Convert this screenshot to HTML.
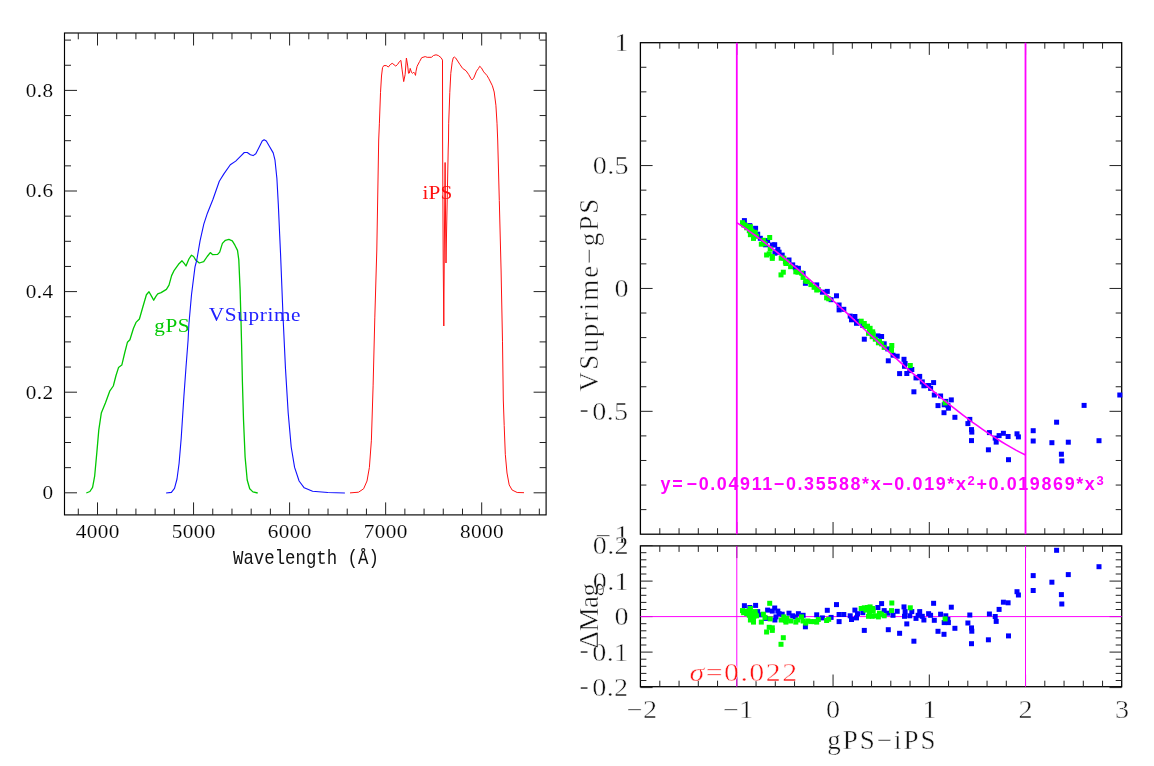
<!DOCTYPE html>
<html><head><meta charset="utf-8"><title>plot</title>
<style>
html,body{margin:0;padding:0;background:#fff;}
svg{display:block;}
text{font-family:"Liberation Serif",serif;}
.lt{font-size:18.5px;letter-spacing:0.3px;stroke:#fff;stroke-width:0.12px;fill:#000;}
.lw{font-family:"Liberation Mono",monospace;font-size:20.8px;letter-spacing:0px;fill:#111;}
.cl{font-size:19.3px;}
.rt{font-size:24.5px;letter-spacing:0.3px;stroke:#fff;stroke-width:0.45px;}
.rl{font-size:27px;letter-spacing:1.5px;stroke:#fff;stroke-width:0.45px;}
.eq{font-family:"Liberation Sans",sans-serif;font-weight:bold;font-size:17.9px;letter-spacing:1.64px;}
</style></head><body>
<svg width="1154" height="766" viewBox="0 0 1154 766">
<rect width="1154" height="766" fill="#fff"/>
<g fill="#111" opacity="0.999">
<rect x="64.5" y="33.0" width="481.6" height="481.9" fill="none" stroke="#000" stroke-width="1.15"/>
<path d="M78.29 514.90L78.29 508.60M78.29 33.00L78.29 39.30M97.50 514.90L97.50 502.40M97.50 33.00L97.50 45.50M116.71 514.90L116.71 508.60M116.71 33.00L116.71 39.30M135.92 514.90L135.92 508.60M135.92 33.00L135.92 39.30M155.13 514.90L155.13 508.60M155.13 33.00L155.13 39.30M174.34 514.90L174.34 508.60M174.34 33.00L174.34 39.30M193.55 514.90L193.55 502.40M193.55 33.00L193.55 45.50M212.76 514.90L212.76 508.60M212.76 33.00L212.76 39.30M231.97 514.90L231.97 508.60M231.97 33.00L231.97 39.30M251.18 514.90L251.18 508.60M251.18 33.00L251.18 39.30M270.39 514.90L270.39 508.60M270.39 33.00L270.39 39.30M289.60 514.90L289.60 502.40M289.60 33.00L289.60 45.50M308.81 514.90L308.81 508.60M308.81 33.00L308.81 39.30M328.02 514.90L328.02 508.60M328.02 33.00L328.02 39.30M347.23 514.90L347.23 508.60M347.23 33.00L347.23 39.30M366.44 514.90L366.44 508.60M366.44 33.00L366.44 39.30M385.65 514.90L385.65 502.40M385.65 33.00L385.65 45.50M404.86 514.90L404.86 508.60M404.86 33.00L404.86 39.30M424.07 514.90L424.07 508.60M424.07 33.00L424.07 39.30M443.28 514.90L443.28 508.60M443.28 33.00L443.28 39.30M462.49 514.90L462.49 508.60M462.49 33.00L462.49 39.30M481.70 514.90L481.70 502.40M481.70 33.00L481.70 45.50M500.91 514.90L500.91 508.60M500.91 33.00L500.91 39.30M520.12 514.90L520.12 508.60M520.12 33.00L520.12 39.30M539.33 514.90L539.33 508.60M539.33 33.00L539.33 39.30M64.50 492.80L77.00 492.80M546.10 492.80L533.60 492.80M64.50 467.65L71.00 467.65M546.10 467.65L539.60 467.65M64.50 442.50L71.00 442.50M546.10 442.50L539.60 442.50M64.50 417.35L71.00 417.35M546.10 417.35L539.60 417.35M64.50 392.20L77.00 392.20M546.10 392.20L533.60 392.20M64.50 367.05L71.00 367.05M546.10 367.05L539.60 367.05M64.50 341.90L71.00 341.90M546.10 341.90L539.60 341.90M64.50 316.75L71.00 316.75M546.10 316.75L539.60 316.75M64.50 291.60L77.00 291.60M546.10 291.60L533.60 291.60M64.50 266.45L71.00 266.45M546.10 266.45L539.60 266.45M64.50 241.30L71.00 241.30M546.10 241.30L539.60 241.30M64.50 216.15L71.00 216.15M546.10 216.15L539.60 216.15M64.50 191.00L77.00 191.00M546.10 191.00L533.60 191.00M64.50 165.85L71.00 165.85M546.10 165.85L539.60 165.85M64.50 140.70L71.00 140.70M546.10 140.70L539.60 140.70M64.50 115.55L71.00 115.55M546.10 115.55L539.60 115.55M64.50 90.40L77.00 90.40M546.10 90.40L533.60 90.40M64.50 65.25L71.00 65.25M546.10 65.25L539.60 65.25M64.50 40.10L71.00 40.10M546.10 40.10L539.60 40.10" stroke="#222" stroke-width="1.0" fill="none"/>
<path d="M86.3 493.0 L89.9 491.5 L92.6 487.3 L94.7 475.8 L96.8 452.9 L98.8 429.9 L101.3 413.1 L105.5 402.7 L109.7 391.2 L113.3 386.0 L116.0 375.5 L118.5 367.6 L121.8 365.1 L124.8 352.5 L127.4 342.3 L129.9 339.8 L133.4 328.5 L136.0 322.4 L139.4 319.0 L142.9 306.8 L146.4 294.7 L149.0 291.7 L151.6 296.4 L153.7 300.2 L155.9 296.4 L157.7 293.8 L161.1 292.6 L166.4 289.4 L169.0 285.1 L171.6 275.6 L174.2 270.3 L178.5 264.3 L182.0 260.8 L184.2 263.4 L186.0 266.0 L188.9 259.0 L191.5 255.2 L193.6 256.5 L195.9 260.3 L199.3 263.0 L203.7 261.7 L207.2 256.5 L210.3 252.6 L212.7 254.7 L217.6 254.4 L219.7 252.1 L222.4 243.4 L225.4 240.3 L228.9 239.4 L232.3 240.8 L234.9 245.2 L237.5 250.4 L238.8 259.9 L240.1 289.4 L241.0 320.7 L241.6 345.0 L242.4 381.8 L243.5 419.4 L245.1 457.0 L247.2 480.0 L249.7 488.8 L252.9 491.9 L257.7 493.0" fill="none" stroke="#00c800" stroke-width="1.3" stroke-linejoin="round"/>
<path d="M166.1 493.0 L171.4 492.4 L174.5 488.4 L177.0 479.0 L179.1 463.3 L181.2 438.2 L183.9 396.4 L186.0 367.2 L188.1 340.0 L188.9 324.2 L191.5 294.7 L195.0 266.9 L196.8 260.0 L200.1 240.6 L203.8 224.2 L207.4 213.2 L212.9 199.5 L219.3 181.2 L223.9 173.9 L230.3 164.8 L235.7 161.1 L241.2 155.6 L244.3 152.5 L247.3 152.5 L250.4 154.7 L253.1 155.6 L255.8 153.8 L259.5 146.5 L262.2 141.0 L264.1 139.7 L266.3 141.0 L269.5 146.5 L273.2 152.9 L275.0 160.2 L276.9 178.5 L278.3 204.1 L279.6 233.3 L280.6 255.0 L283.1 317.9 L285.5 368.9 L288.2 413.0 L291.2 447.0 L294.6 467.4 L299.1 481.0 L304.2 487.8 L312.6 491.2 L327.9 492.5 L344.9 493.0" fill="none" stroke="#1010ff" stroke-width="1.1" stroke-linejoin="round"/>
<path d="M350.0 492.9 L358.5 492.2 L363.6 488.8 L367.0 481.0 L369.4 467.4 L371.4 440.2 L373.1 385.9 L374.8 317.9 L376.8 250.0 L378.7 140.0 L379.4 123.2 L380.5 92.7 L381.5 76.0 L382.5 67.7 L383.8 65.6 L386.3 65.6 L388.4 67.0 L390.2 64.7 L392.2 63.3 L394.0 64.7 L395.8 66.1 L397.7 64.3 L399.5 61.5 L400.9 60.4 L402.0 69.1 L403.7 81.6 L405.1 74.7 L406.4 58.0 L407.6 65.0 L408.5 73.3 L409.4 73.0 L410.2 68.4 L411.6 72.6 L412.7 73.3 L413.8 72.2 L414.6 73.3 L415.5 75.4 L416.0 71.2 L417.1 66.3 L419.6 61.5 L421.7 57.7 L425.2 56.6 L427.2 57.3 L431.4 57.3 L433.5 55.5 L436.0 54.8 L438.3 55.5 L441.1 57.7 L442.5 60.1 L442.6 140.0 L443.2 260.0 L443.8 326.0 L444.3 250.0 L445.1 162.5 L445.6 225.0 L446.0 263.0 L446.6 230.0 L447.5 185.0 L448.2 150.0 L448.5 140.0 L448.7 123.2 L449.8 92.7 L450.8 73.3 L452.2 62.2 L453.2 58.0 L454.3 56.9 L455.7 58.0 L459.8 64.3 L462.6 68.4 L466.1 70.8 L468.8 74.7 L470.9 78.5 L472.0 79.9 L473.7 78.1 L476.5 71.2 L478.5 68.4 L479.7 66.3 L481.3 67.7 L483.7 71.9 L486.9 75.4 L488.9 78.8 L492.4 85.8 L494.2 92.0 L495.9 105.2 L497.0 123.2 L497.7 140.0 L499.3 200.6 L501.1 271.0 L502.5 341.8 L503.3 400.0 L504.2 425.5 L505.3 454.3 L507.0 473.0 L509.2 484.9 L512.1 490.0 L517.2 492.5 L524.0 492.7" fill="none" stroke="#ff1010" stroke-width="1.0" stroke-linejoin="round"/>
<text class="lt" transform="translate(53.4,499.2) scale(1.150,1)" text-anchor="end" >0</text>
<text class="lt" transform="translate(53.4,398.6) scale(1.150,1)" text-anchor="end" >0.2</text>
<text class="lt" transform="translate(53.4,298.0) scale(1.150,1)" text-anchor="end" >0.4</text>
<text class="lt" transform="translate(53.4,197.4) scale(1.150,1)" text-anchor="end" >0.6</text>
<text class="lt" transform="translate(53.4,96.8) scale(1.150,1)" text-anchor="end" >0.8</text>
<text class="lt" transform="translate(97.7,538.0) scale(1.150,1)" text-anchor="middle" >4000</text>
<text class="lt" transform="translate(193.8,538.0) scale(1.150,1)" text-anchor="middle" >5000</text>
<text class="lt" transform="translate(289.8,538.0) scale(1.150,1)" text-anchor="middle" >6000</text>
<text class="lt" transform="translate(385.8,538.0) scale(1.150,1)" text-anchor="middle" >7000</text>
<text class="lt" transform="translate(481.9,538.0) scale(1.150,1)" text-anchor="middle" >8000</text>
<text class="lw" transform="translate(305.9,564.0) scale(0.835,1)" text-anchor="middle" >Wavelength (Å)</text>
<text class="cl" transform="translate(154.3,332.4) scale(1.100,1)" text-anchor="start" fill="#00c800" style="letter-spacing:0.5px">gPS</text>
<text class="cl" transform="translate(208.7,321.1) scale(1.100,1)" text-anchor="start" fill="#2020ff" style="letter-spacing:0.6px">VSuprime</text>
<text class="cl" transform="translate(422.6,199.0) scale(1.100,1)" text-anchor="start" fill="#ff1010" style="letter-spacing:0.1px">iPS</text>
<rect x="640.4" y="42.7" width="481.3" height="491.5" fill="none" stroke="#000" stroke-width="1.3"/>
<rect x="640.4" y="545.9" width="481.3" height="140.8" fill="none" stroke="#000" stroke-width="1.3"/>
<path d="M659.80 42.70L659.80 48.70M659.80 534.20L659.80 528.20M659.80 545.90L659.80 551.90M659.80 686.70L659.80 680.70M679.05 42.70L679.05 48.70M679.05 534.20L679.05 528.20M679.05 545.90L679.05 551.90M679.05 686.70L679.05 680.70M698.30 42.70L698.30 48.70M698.30 534.20L698.30 528.20M698.30 545.90L698.30 551.90M698.30 686.70L698.30 680.70M717.55 42.70L717.55 48.70M717.55 534.20L717.55 528.20M717.55 545.90L717.55 551.90M717.55 686.70L717.55 680.70M736.80 42.70L736.80 54.90M736.80 534.20L736.80 522.00M736.80 545.90L736.80 558.10M736.80 686.70L736.80 674.50M756.05 42.70L756.05 48.70M756.05 534.20L756.05 528.20M756.05 545.90L756.05 551.90M756.05 686.70L756.05 680.70M775.30 42.70L775.30 48.70M775.30 534.20L775.30 528.20M775.30 545.90L775.30 551.90M775.30 686.70L775.30 680.70M794.55 42.70L794.55 48.70M794.55 534.20L794.55 528.20M794.55 545.90L794.55 551.90M794.55 686.70L794.55 680.70M813.80 42.70L813.80 48.70M813.80 534.20L813.80 528.20M813.80 545.90L813.80 551.90M813.80 686.70L813.80 680.70M833.05 42.70L833.05 54.90M833.05 534.20L833.05 522.00M833.05 545.90L833.05 558.10M833.05 686.70L833.05 674.50M852.30 42.70L852.30 48.70M852.30 534.20L852.30 528.20M852.30 545.90L852.30 551.90M852.30 686.70L852.30 680.70M871.55 42.70L871.55 48.70M871.55 534.20L871.55 528.20M871.55 545.90L871.55 551.90M871.55 686.70L871.55 680.70M890.80 42.70L890.80 48.70M890.80 534.20L890.80 528.20M890.80 545.90L890.80 551.90M890.80 686.70L890.80 680.70M910.05 42.70L910.05 48.70M910.05 534.20L910.05 528.20M910.05 545.90L910.05 551.90M910.05 686.70L910.05 680.70M929.30 42.70L929.30 54.90M929.30 534.20L929.30 522.00M929.30 545.90L929.30 558.10M929.30 686.70L929.30 674.50M948.55 42.70L948.55 48.70M948.55 534.20L948.55 528.20M948.55 545.90L948.55 551.90M948.55 686.70L948.55 680.70M967.80 42.70L967.80 48.70M967.80 534.20L967.80 528.20M967.80 545.90L967.80 551.90M967.80 686.70L967.80 680.70M987.05 42.70L987.05 48.70M987.05 534.20L987.05 528.20M987.05 545.90L987.05 551.90M987.05 686.70L987.05 680.70M1006.30 42.70L1006.30 48.70M1006.30 534.20L1006.30 528.20M1006.30 545.90L1006.30 551.90M1006.30 686.70L1006.30 680.70M1025.55 42.70L1025.55 54.90M1025.55 534.20L1025.55 522.00M1025.55 545.90L1025.55 558.10M1025.55 686.70L1025.55 674.50M1044.80 42.70L1044.80 48.70M1044.80 534.20L1044.80 528.20M1044.80 545.90L1044.80 551.90M1044.80 686.70L1044.80 680.70M1064.05 42.70L1064.05 48.70M1064.05 534.20L1064.05 528.20M1064.05 545.90L1064.05 551.90M1064.05 686.70L1064.05 680.70M1083.30 42.70L1083.30 48.70M1083.30 534.20L1083.30 528.20M1083.30 545.90L1083.30 551.90M1083.30 686.70L1083.30 680.70M1102.55 42.70L1102.55 48.70M1102.55 534.20L1102.55 528.20M1102.55 545.90L1102.55 551.90M1102.55 686.70L1102.55 680.70M640.40 509.62L646.40 509.62M1121.70 509.62L1115.70 509.62M640.40 485.05L646.40 485.05M1121.70 485.05L1115.70 485.05M640.40 460.47L646.40 460.47M1121.70 460.47L1115.70 460.47M640.40 435.90L646.40 435.90M1121.70 435.90L1115.70 435.90M640.40 411.32L652.60 411.32M1121.70 411.32L1109.50 411.32M640.40 386.75L646.40 386.75M1121.70 386.75L1115.70 386.75M640.40 362.17L646.40 362.17M1121.70 362.17L1115.70 362.17M640.40 337.60L646.40 337.60M1121.70 337.60L1115.70 337.60M640.40 313.02L646.40 313.02M1121.70 313.02L1115.70 313.02M640.40 288.45L652.60 288.45M1121.70 288.45L1109.50 288.45M640.40 263.87L646.40 263.87M1121.70 263.87L1115.70 263.87M640.40 239.30L646.40 239.30M1121.70 239.30L1115.70 239.30M640.40 214.72L646.40 214.72M1121.70 214.72L1115.70 214.72M640.40 190.15L646.40 190.15M1121.70 190.15L1115.70 190.15M640.40 165.57L652.60 165.57M1121.70 165.57L1109.50 165.57M640.40 141.00L646.40 141.00M1121.70 141.00L1115.70 141.00M640.40 116.42L646.40 116.42M1121.70 116.42L1115.70 116.42M640.40 91.85L646.40 91.85M1121.70 91.85L1115.70 91.85M640.40 67.27L646.40 67.27M1121.70 67.27L1115.70 67.27M640.40 687.60L652.60 687.60M1121.70 687.60L1109.50 687.60M640.40 680.50L646.40 680.50M1121.70 680.50L1115.70 680.50M640.40 673.40L646.40 673.40M1121.70 673.40L1115.70 673.40M640.40 666.30L646.40 666.30M1121.70 666.30L1115.70 666.30M640.40 659.20L646.40 659.20M1121.70 659.20L1115.70 659.20M640.40 652.10L652.60 652.10M1121.70 652.10L1109.50 652.10M640.40 645.00L646.40 645.00M1121.70 645.00L1115.70 645.00M640.40 637.90L646.40 637.90M1121.70 637.90L1115.70 637.90M640.40 630.80L646.40 630.80M1121.70 630.80L1115.70 630.80M640.40 623.70L646.40 623.70M1121.70 623.70L1115.70 623.70M640.40 616.60L652.60 616.60M1121.70 616.60L1109.50 616.60M640.40 609.50L646.40 609.50M1121.70 609.50L1115.70 609.50M640.40 602.40L646.40 602.40M1121.70 602.40L1115.70 602.40M640.40 595.30L646.40 595.30M1121.70 595.30L1115.70 595.30M640.40 588.20L646.40 588.20M1121.70 588.20L1115.70 588.20M640.40 581.10L652.60 581.10M1121.70 581.10L1109.50 581.10M640.40 574.00L646.40 574.00M1121.70 574.00L1115.70 574.00M640.40 566.90L646.40 566.90M1121.70 566.90L1115.70 566.90M640.40 559.80L646.40 559.80M1121.70 559.80L1115.70 559.80M640.40 552.70L646.40 552.70M1121.70 552.70L1115.70 552.70M640.40 545.60L652.60 545.60M1121.70 545.60L1109.50 545.60" stroke="#222" stroke-width="1.0" fill="none"/>
<rect x="741.9" y="218.1" width="5.0" height="5.0" fill="#0000ff"/><rect x="753.1" y="225.8" width="5.0" height="5.0" fill="#0000ff"/><rect x="747.3" y="223.1" width="5.0" height="5.0" fill="#0000ff"/><rect x="755.2" y="231.7" width="5.0" height="5.0" fill="#0000ff"/><rect x="757.8" y="235.8" width="5.0" height="5.0" fill="#0000ff"/><rect x="765.1" y="238.1" width="5.0" height="5.0" fill="#0000ff"/><rect x="769.8" y="242.5" width="5.0" height="5.0" fill="#0000ff"/><rect x="772.2" y="242.2" width="5.0" height="5.0" fill="#0000ff"/><rect x="775.3" y="246.9" width="5.0" height="5.0" fill="#0000ff"/><rect x="776.6" y="249.7" width="5.0" height="5.0" fill="#0000ff"/><rect x="779.7" y="252.6" width="5.0" height="5.0" fill="#0000ff"/><rect x="773.5" y="249.4" width="5.0" height="5.0" fill="#0000ff"/><rect x="772.4" y="250.7" width="5.0" height="5.0" fill="#0000ff"/><rect x="786.5" y="257.5" width="5.0" height="5.0" fill="#0000ff"/><rect x="790.2" y="262.4" width="5.0" height="5.0" fill="#0000ff"/><rect x="792.8" y="265.3" width="5.0" height="5.0" fill="#0000ff"/><rect x="795.9" y="265.8" width="5.0" height="5.0" fill="#0000ff"/><rect x="800.6" y="270.9" width="5.0" height="5.0" fill="#0000ff"/><rect x="802.9" y="280.8" width="5.0" height="5.0" fill="#0000ff"/><rect x="814.2" y="282.4" width="5.0" height="5.0" fill="#0000ff"/><rect x="819.9" y="289.7" width="5.0" height="5.0" fill="#0000ff"/><rect x="824.8" y="288.9" width="5.0" height="5.0" fill="#0000ff"/><rect x="828.6" y="297.2" width="5.0" height="5.0" fill="#0000ff"/><rect x="834.0" y="293.3" width="5.0" height="5.0" fill="#0000ff"/><rect x="836.6" y="302.5" width="5.0" height="5.0" fill="#0000ff"/><rect x="841.3" y="306.8" width="5.0" height="5.0" fill="#0000ff"/><rect x="836.6" y="307.4" width="5.0" height="5.0" fill="#0000ff"/><rect x="763.0" y="242.3" width="5.0" height="5.0" fill="#0000ff"/><rect x="847.7" y="313.6" width="5.0" height="5.0" fill="#0000ff"/><rect x="849.0" y="317.3" width="5.0" height="5.0" fill="#0000ff"/><rect x="852.4" y="314.0" width="5.0" height="5.0" fill="#0000ff"/><rect x="855.0" y="318.9" width="5.0" height="5.0" fill="#0000ff"/><rect x="854.0" y="320.8" width="5.0" height="5.0" fill="#0000ff"/><rect x="860.3" y="323.0" width="5.0" height="5.0" fill="#0000ff"/><rect x="861.8" y="336.7" width="5.0" height="5.0" fill="#0000ff"/><rect x="875.4" y="333.4" width="5.0" height="5.0" fill="#0000ff"/><rect x="879.1" y="334.0" width="5.0" height="5.0" fill="#0000ff"/><rect x="881.7" y="341.3" width="5.0" height="5.0" fill="#0000ff"/><rect x="885.3" y="346.4" width="5.0" height="5.0" fill="#0000ff"/><rect x="885.8" y="358.3" width="5.0" height="5.0" fill="#0000ff"/><rect x="890.5" y="352.7" width="5.0" height="5.0" fill="#0000ff"/><rect x="894.7" y="353.7" width="5.0" height="5.0" fill="#0000ff"/><rect x="897.1" y="371.1" width="5.0" height="5.0" fill="#0000ff"/><rect x="901.5" y="356.8" width="5.0" height="5.0" fill="#0000ff"/><rect x="902.0" y="363.8" width="5.0" height="5.0" fill="#0000ff"/><rect x="902.6" y="361.0" width="5.0" height="5.0" fill="#0000ff"/><rect x="904.3" y="371.0" width="5.0" height="5.0" fill="#0000ff"/><rect x="907.3" y="368.1" width="5.0" height="5.0" fill="#0000ff"/><rect x="909.3" y="367.0" width="5.0" height="5.0" fill="#0000ff"/><rect x="911.4" y="389.3" width="5.0" height="5.0" fill="#0000ff"/><rect x="913.5" y="375.4" width="5.0" height="5.0" fill="#0000ff"/><rect x="915.6" y="375.1" width="5.0" height="5.0" fill="#0000ff"/><rect x="917.2" y="373.9" width="5.0" height="5.0" fill="#0000ff"/><rect x="919.8" y="379.4" width="5.0" height="5.0" fill="#0000ff"/><rect x="921.4" y="383.3" width="5.0" height="5.0" fill="#0000ff"/><rect x="926.1" y="383.0" width="5.0" height="5.0" fill="#0000ff"/><rect x="928.1" y="385.9" width="5.0" height="5.0" fill="#0000ff"/><rect x="931.1" y="380.1" width="5.0" height="5.0" fill="#0000ff"/><rect x="931.8" y="392.5" width="5.0" height="5.0" fill="#0000ff"/><rect x="935.5" y="403.1" width="5.0" height="5.0" fill="#0000ff"/><rect x="938.1" y="393.5" width="5.0" height="5.0" fill="#0000ff"/><rect x="941.5" y="410.2" width="5.0" height="5.0" fill="#0000ff"/><rect x="943.3" y="398.9" width="5.0" height="5.0" fill="#0000ff"/><rect x="945.4" y="403.1" width="5.0" height="5.0" fill="#0000ff"/><rect x="941.7" y="402.3" width="5.0" height="5.0" fill="#0000ff"/><rect x="945.9" y="405.7" width="5.0" height="5.0" fill="#0000ff"/><rect x="948.8" y="397.4" width="5.0" height="5.0" fill="#0000ff"/><rect x="952.4" y="414.8" width="5.0" height="5.0" fill="#0000ff"/><rect x="967.3" y="416.9" width="5.0" height="5.0" fill="#0000ff"/><rect x="965.4" y="421.1" width="5.0" height="5.0" fill="#0000ff"/><rect x="969.0" y="427.1" width="5.0" height="5.0" fill="#0000ff"/><rect x="969.3" y="429.6" width="5.0" height="5.0" fill="#0000ff"/><rect x="969.0" y="438.1" width="5.0" height="5.0" fill="#0000ff"/><rect x="985.9" y="447.3" width="5.0" height="5.0" fill="#0000ff"/><rect x="986.9" y="430.1" width="5.0" height="5.0" fill="#0000ff"/><rect x="992.7" y="435.6" width="5.0" height="5.0" fill="#0000ff"/><rect x="993.7" y="439.6" width="5.0" height="5.0" fill="#0000ff"/><rect x="996.6" y="433.1" width="5.0" height="5.0" fill="#0000ff"/><rect x="1000.9" y="430.8" width="5.0" height="5.0" fill="#0000ff"/><rect x="1005.6" y="434.0" width="5.0" height="5.0" fill="#0000ff"/><rect x="1006.0" y="457.2" width="5.0" height="5.0" fill="#0000ff"/><rect x="1014.5" y="431.3" width="5.0" height="5.0" fill="#0000ff"/><rect x="1015.9" y="434.4" width="5.0" height="5.0" fill="#0000ff"/><rect x="1030.7" y="428.2" width="5.0" height="5.0" fill="#0000ff"/><rect x="1030.7" y="438.5" width="5.0" height="5.0" fill="#0000ff"/><rect x="1049.4" y="440.2" width="5.0" height="5.0" fill="#0000ff"/><rect x="1054.1" y="419.7" width="5.0" height="5.0" fill="#0000ff"/><rect x="1058.9" y="451.7" width="5.0" height="5.0" fill="#0000ff"/><rect x="1059.3" y="458.4" width="5.0" height="5.0" fill="#0000ff"/><rect x="1065.8" y="439.7" width="5.0" height="5.0" fill="#0000ff"/><rect x="1096.5" y="438.2" width="5.0" height="5.0" fill="#0000ff"/><rect x="1081.6" y="402.9" width="5.0" height="5.0" fill="#0000ff"/><rect x="1117.3" y="392.5" width="5.0" height="5.0" fill="#0000ff"/>
<rect x="740.0" y="220.2" width="5.0" height="5.0" fill="#00ff00"/><rect x="742.6" y="222.7" width="5.0" height="5.0" fill="#00ff00"/><rect x="744.2" y="225.3" width="5.0" height="5.0" fill="#00ff00"/><rect x="747.9" y="224.2" width="5.0" height="5.0" fill="#00ff00"/><rect x="746.8" y="228.2" width="5.0" height="5.0" fill="#00ff00"/><rect x="749.4" y="228.6" width="5.0" height="5.0" fill="#00ff00"/><rect x="752.6" y="231.6" width="5.0" height="5.0" fill="#00ff00"/><rect x="754.1" y="233.8" width="5.0" height="5.0" fill="#00ff00"/><rect x="751.0" y="233.3" width="5.0" height="5.0" fill="#00ff00"/><rect x="747.9" y="232.2" width="5.0" height="5.0" fill="#00ff00"/><rect x="751.0" y="235.9" width="5.0" height="5.0" fill="#00ff00"/><rect x="758.8" y="241.7" width="5.0" height="5.0" fill="#00ff00"/><rect x="760.9" y="237.8" width="5.0" height="5.0" fill="#00ff00"/><rect x="762.5" y="241.2" width="5.0" height="5.0" fill="#00ff00"/><rect x="767.2" y="235.0" width="5.0" height="5.0" fill="#00ff00"/><rect x="767.7" y="246.3" width="5.0" height="5.0" fill="#00ff00"/><rect x="766.7" y="251.3" width="5.0" height="5.0" fill="#00ff00"/><rect x="769.8" y="254.1" width="5.0" height="5.0" fill="#00ff00"/><rect x="769.8" y="255.9" width="5.0" height="5.0" fill="#00ff00"/><rect x="764.1" y="252.5" width="5.0" height="5.0" fill="#00ff00"/><rect x="780.8" y="269.7" width="5.0" height="5.0" fill="#00ff00"/><rect x="778.5" y="272.4" width="5.0" height="5.0" fill="#00ff00"/><rect x="778.7" y="255.7" width="5.0" height="5.0" fill="#00ff00"/><rect x="781.3" y="255.7" width="5.0" height="5.0" fill="#00ff00"/><rect x="782.9" y="259.5" width="5.0" height="5.0" fill="#00ff00"/><rect x="784.4" y="259.4" width="5.0" height="5.0" fill="#00ff00"/><rect x="783.4" y="261.0" width="5.0" height="5.0" fill="#00ff00"/><rect x="788.1" y="264.2" width="5.0" height="5.0" fill="#00ff00"/><rect x="793.3" y="269.3" width="5.0" height="5.0" fill="#00ff00"/><rect x="795.4" y="269.7" width="5.0" height="5.0" fill="#00ff00"/><rect x="799.0" y="270.6" width="5.0" height="5.0" fill="#00ff00"/><rect x="800.6" y="274.9" width="5.0" height="5.0" fill="#00ff00"/><rect x="803.2" y="278.6" width="5.0" height="5.0" fill="#00ff00"/><rect x="805.3" y="279.0" width="5.0" height="5.0" fill="#00ff00"/><rect x="808.4" y="282.1" width="5.0" height="5.0" fill="#00ff00"/><rect x="811.6" y="284.8" width="5.0" height="5.0" fill="#00ff00"/><rect x="814.2" y="287.5" width="5.0" height="5.0" fill="#00ff00"/><rect x="815.8" y="287.1" width="5.0" height="5.0" fill="#00ff00"/><rect x="824.1" y="295.3" width="5.0" height="5.0" fill="#00ff00"/><rect x="826.2" y="296.3" width="5.0" height="5.0" fill="#00ff00"/><rect x="745.3" y="224.2" width="5.0" height="5.0" fill="#00ff00"/><rect x="751.5" y="232.3" width="5.0" height="5.0" fill="#00ff00"/><rect x="748.4" y="230.7" width="5.0" height="5.0" fill="#00ff00"/><rect x="752.6" y="229.8" width="5.0" height="5.0" fill="#00ff00"/><rect x="741.1" y="222.4" width="5.0" height="5.0" fill="#00ff00"/><rect x="858.7" y="318.7" width="5.0" height="5.0" fill="#00ff00"/><rect x="861.8" y="321.0" width="5.0" height="5.0" fill="#00ff00"/><rect x="865.0" y="323.7" width="5.0" height="5.0" fill="#00ff00"/><rect x="867.6" y="325.8" width="5.0" height="5.0" fill="#00ff00"/><rect x="870.2" y="329.3" width="5.0" height="5.0" fill="#00ff00"/><rect x="863.4" y="324.1" width="5.0" height="5.0" fill="#00ff00"/><rect x="867.0" y="328.5" width="5.0" height="5.0" fill="#00ff00"/><rect x="870.7" y="331.6" width="5.0" height="5.0" fill="#00ff00"/><rect x="866.0" y="330.8" width="5.0" height="5.0" fill="#00ff00"/><rect x="869.7" y="334.2" width="5.0" height="5.0" fill="#00ff00"/><rect x="872.8" y="336.7" width="5.0" height="5.0" fill="#00ff00"/><rect x="875.9" y="340.3" width="5.0" height="5.0" fill="#00ff00"/><rect x="879.1" y="341.4" width="5.0" height="5.0" fill="#00ff00"/><rect x="881.7" y="344.9" width="5.0" height="5.0" fill="#00ff00"/><rect x="877.0" y="338.8" width="5.0" height="5.0" fill="#00ff00"/><rect x="889.3" y="343.0" width="5.0" height="5.0" fill="#00ff00"/><rect x="889.0" y="348.0" width="5.0" height="5.0" fill="#00ff00"/><rect x="907.8" y="363.0" width="5.0" height="5.0" fill="#00ff00"/><rect x="942.6" y="400.4" width="5.0" height="5.0" fill="#00ff00"/>
<line x1="736.8" y1="42.7" x2="736.8" y2="534.2" stroke="#ff00ff" stroke-width="1.8"/>
<line x1="1025.5" y1="42.7" x2="1025.5" y2="534.2" stroke="#ff00ff" stroke-width="1.8"/>
<path d="M736.8 222.6 L741.6 225.8 L746.4 229.1 L751.2 232.6 L756.0 236.0 L760.9 239.6 L765.7 243.3 L770.5 247.0 L775.3 250.8 L780.1 254.6 L784.9 258.6 L789.7 262.6 L794.5 266.6 L799.4 270.7 L804.2 274.8 L809.0 279.0 L813.8 283.3 L818.6 287.5 L823.4 291.8 L828.2 296.2 L833.0 300.5 L837.9 304.9 L842.7 309.3 L847.5 313.7 L852.3 318.2 L857.1 322.6 L861.9 327.0 L866.7 331.5 L871.5 335.9 L876.4 340.4 L881.2 344.8 L886.0 349.2 L890.8 353.6 L895.6 358.0 L900.4 362.4 L905.2 366.7 L910.0 371.0 L914.9 375.2 L919.7 379.5 L924.5 383.6 L929.3 387.8 L934.1 391.8 L938.9 395.9 L943.7 399.8 L948.5 403.8 L953.4 407.6 L958.2 411.4 L963.0 415.1 L967.8 418.7 L972.6 422.3 L977.4 425.7 L982.2 429.1 L987.0 432.4 L991.9 435.6 L996.7 438.7 L1001.5 441.7 L1006.3 444.6 L1011.1 447.4 L1015.9 450.1 L1020.7 452.6 L1025.5 455.0" fill="none" stroke="#ff00ff" stroke-width="1.6" stroke-linejoin="round"/>
<text class="eq" x="660.6" y="489.6" fill="#ff00ff">y=<tspan dx="2.3">−</tspan>0.04911−0.35588*x−0.019*x<tspan dy="-5" font-size="13">2</tspan><tspan dy="5">+0.019869*x</tspan><tspan dy="-5" font-size="13">3</tspan></text>
<line x1="640.4" y1="616.6" x2="1121.7" y2="616.6" stroke="#ff00ff" stroke-width="1"/>
<line x1="736.8" y1="545.9" x2="736.8" y2="686.7" stroke="#ff00ff" stroke-width="1"/>
<line x1="1025.5" y1="545.9" x2="1025.5" y2="686.7" stroke="#ff00ff" stroke-width="1"/>
<rect x="741.9" y="603.2" width="5.0" height="5.0" fill="#0000ff"/><rect x="753.1" y="602.9" width="5.0" height="5.0" fill="#0000ff"/><rect x="747.3" y="605.0" width="5.0" height="5.0" fill="#0000ff"/><rect x="755.2" y="609.1" width="5.0" height="5.0" fill="#0000ff"/><rect x="757.8" y="612.3" width="5.0" height="5.0" fill="#0000ff"/><rect x="765.1" y="607.6" width="5.0" height="5.0" fill="#0000ff"/><rect x="769.8" y="608.6" width="5.0" height="5.0" fill="#0000ff"/><rect x="772.2" y="605.5" width="5.0" height="5.0" fill="#0000ff"/><rect x="775.3" y="608.6" width="5.0" height="5.0" fill="#0000ff"/><rect x="776.6" y="611.2" width="5.0" height="5.0" fill="#0000ff"/><rect x="779.7" y="611.7" width="5.0" height="5.0" fill="#0000ff"/><rect x="773.5" y="614.4" width="5.0" height="5.0" fill="#0000ff"/><rect x="772.4" y="617.5" width="5.0" height="5.0" fill="#0000ff"/><rect x="786.5" y="610.7" width="5.0" height="5.0" fill="#0000ff"/><rect x="790.2" y="613.3" width="5.0" height="5.0" fill="#0000ff"/><rect x="792.8" y="614.4" width="5.0" height="5.0" fill="#0000ff"/><rect x="795.9" y="611.2" width="5.0" height="5.0" fill="#0000ff"/><rect x="800.6" y="612.8" width="5.0" height="5.0" fill="#0000ff"/><rect x="802.9" y="624.3" width="5.0" height="5.0" fill="#0000ff"/><rect x="814.2" y="612.3" width="5.0" height="5.0" fill="#0000ff"/><rect x="819.9" y="615.4" width="5.0" height="5.0" fill="#0000ff"/><rect x="824.8" y="607.8" width="5.0" height="5.0" fill="#0000ff"/><rect x="828.6" y="614.9" width="5.0" height="5.0" fill="#0000ff"/><rect x="834.0" y="602.1" width="5.0" height="5.0" fill="#0000ff"/><rect x="836.6" y="612.0" width="5.0" height="5.0" fill="#0000ff"/><rect x="841.3" y="612.0" width="5.0" height="5.0" fill="#0000ff"/><rect x="836.6" y="619.1" width="5.0" height="5.0" fill="#0000ff"/><rect x="763.0" y="615.9" width="5.0" height="5.0" fill="#0000ff"/><rect x="847.7" y="613.3" width="5.0" height="5.0" fill="#0000ff"/><rect x="849.0" y="617.0" width="5.0" height="5.0" fill="#0000ff"/><rect x="852.4" y="607.6" width="5.0" height="5.0" fill="#0000ff"/><rect x="855.0" y="611.2" width="5.0" height="5.0" fill="#0000ff"/><rect x="854.0" y="615.4" width="5.0" height="5.0" fill="#0000ff"/><rect x="860.3" y="610.2" width="5.0" height="5.0" fill="#0000ff"/><rect x="861.8" y="627.9" width="5.0" height="5.0" fill="#0000ff"/><rect x="875.4" y="605.0" width="5.0" height="5.0" fill="#0000ff"/><rect x="879.1" y="601.1" width="5.0" height="5.0" fill="#0000ff"/><rect x="881.7" y="608.1" width="5.0" height="5.0" fill="#0000ff"/><rect x="885.3" y="610.7" width="5.0" height="5.0" fill="#0000ff"/><rect x="885.8" y="627.2" width="5.0" height="5.0" fill="#0000ff"/><rect x="890.5" y="612.8" width="5.0" height="5.0" fill="#0000ff"/><rect x="894.7" y="608.8" width="5.0" height="5.0" fill="#0000ff"/><rect x="897.1" y="630.8" width="5.0" height="5.0" fill="#0000ff"/><rect x="901.5" y="604.4" width="5.0" height="5.0" fill="#0000ff"/><rect x="902.0" y="613.8" width="5.0" height="5.0" fill="#0000ff"/><rect x="902.6" y="609.1" width="5.0" height="5.0" fill="#0000ff"/><rect x="904.3" y="621.4" width="5.0" height="5.0" fill="#0000ff"/><rect x="907.3" y="613.3" width="5.0" height="5.0" fill="#0000ff"/><rect x="909.3" y="609.1" width="5.0" height="5.0" fill="#0000ff"/><rect x="911.4" y="638.7" width="5.0" height="5.0" fill="#0000ff"/><rect x="913.5" y="615.9" width="5.0" height="5.0" fill="#0000ff"/><rect x="915.6" y="612.8" width="5.0" height="5.0" fill="#0000ff"/><rect x="917.2" y="609.1" width="5.0" height="5.0" fill="#0000ff"/><rect x="919.8" y="613.8" width="5.0" height="5.0" fill="#0000ff"/><rect x="921.4" y="617.5" width="5.0" height="5.0" fill="#0000ff"/><rect x="926.1" y="611.2" width="5.0" height="5.0" fill="#0000ff"/><rect x="928.1" y="612.8" width="5.0" height="5.0" fill="#0000ff"/><rect x="931.1" y="600.8" width="5.0" height="5.0" fill="#0000ff"/><rect x="931.8" y="617.8" width="5.0" height="5.0" fill="#0000ff"/><rect x="935.5" y="628.8" width="5.0" height="5.0" fill="#0000ff"/><rect x="938.1" y="611.7" width="5.0" height="5.0" fill="#0000ff"/><rect x="941.5" y="631.8" width="5.0" height="5.0" fill="#0000ff"/><rect x="943.3" y="613.3" width="5.0" height="5.0" fill="#0000ff"/><rect x="945.4" y="617.0" width="5.0" height="5.0" fill="#0000ff"/><rect x="941.7" y="620.1" width="5.0" height="5.0" fill="#0000ff"/><rect x="945.9" y="620.1" width="5.0" height="5.0" fill="#0000ff"/><rect x="948.8" y="604.7" width="5.0" height="5.0" fill="#0000ff"/><rect x="952.4" y="625.8" width="5.0" height="5.0" fill="#0000ff"/><rect x="967.3" y="612.5" width="5.0" height="5.0" fill="#0000ff"/><rect x="965.4" y="620.5" width="5.0" height="5.0" fill="#0000ff"/><rect x="969.0" y="625.4" width="5.0" height="5.0" fill="#0000ff"/><rect x="969.3" y="628.7" width="5.0" height="5.0" fill="#0000ff"/><rect x="969.0" y="641.2" width="5.0" height="5.0" fill="#0000ff"/><rect x="985.9" y="637.3" width="5.0" height="5.0" fill="#0000ff"/><rect x="986.9" y="611.5" width="5.0" height="5.0" fill="#0000ff"/><rect x="992.7" y="614.0" width="5.0" height="5.0" fill="#0000ff"/><rect x="993.7" y="618.9" width="5.0" height="5.0" fill="#0000ff"/><rect x="996.6" y="606.9" width="5.0" height="5.0" fill="#0000ff"/><rect x="1000.9" y="599.7" width="5.0" height="5.0" fill="#0000ff"/><rect x="1005.6" y="600.3" width="5.0" height="5.0" fill="#0000ff"/><rect x="1006.0" y="633.4" width="5.0" height="5.0" fill="#0000ff"/><rect x="1014.5" y="589.2" width="5.0" height="5.0" fill="#0000ff"/><rect x="1015.9" y="592.5" width="5.0" height="5.0" fill="#0000ff"/><rect x="1030.7" y="573.1" width="5.0" height="5.0" fill="#0000ff"/><rect x="1030.7" y="588.0" width="5.0" height="5.0" fill="#0000ff"/><rect x="1049.4" y="579.7" width="5.0" height="5.0" fill="#0000ff"/><rect x="1054.1" y="547.8" width="5.0" height="5.0" fill="#0000ff"/><rect x="1058.9" y="592.1" width="5.0" height="5.0" fill="#0000ff"/><rect x="1059.3" y="601.5" width="5.0" height="5.0" fill="#0000ff"/><rect x="1065.8" y="572.1" width="5.0" height="5.0" fill="#0000ff"/><rect x="1096.5" y="564.2" width="5.0" height="5.0" fill="#0000ff"/>
<rect x="740.0" y="608.1" width="5.0" height="5.0" fill="#00ff00"/><rect x="742.6" y="609.1" width="5.0" height="5.0" fill="#00ff00"/><rect x="744.2" y="611.2" width="5.0" height="5.0" fill="#00ff00"/><rect x="747.9" y="606.0" width="5.0" height="5.0" fill="#00ff00"/><rect x="746.8" y="612.8" width="5.0" height="5.0" fill="#00ff00"/><rect x="749.4" y="610.7" width="5.0" height="5.0" fill="#00ff00"/><rect x="752.6" y="611.7" width="5.0" height="5.0" fill="#00ff00"/><rect x="754.1" y="613.3" width="5.0" height="5.0" fill="#00ff00"/><rect x="751.0" y="615.9" width="5.0" height="5.0" fill="#00ff00"/><rect x="747.9" y="617.5" width="5.0" height="5.0" fill="#00ff00"/><rect x="751.0" y="619.6" width="5.0" height="5.0" fill="#00ff00"/><rect x="758.8" y="619.6" width="5.0" height="5.0" fill="#00ff00"/><rect x="760.9" y="611.7" width="5.0" height="5.0" fill="#00ff00"/><rect x="762.5" y="614.9" width="5.0" height="5.0" fill="#00ff00"/><rect x="767.2" y="600.8" width="5.0" height="5.0" fill="#00ff00"/><rect x="767.7" y="616.4" width="5.0" height="5.0" fill="#00ff00"/><rect x="766.7" y="624.8" width="5.0" height="5.0" fill="#00ff00"/><rect x="769.8" y="625.3" width="5.0" height="5.0" fill="#00ff00"/><rect x="769.8" y="627.9" width="5.0" height="5.0" fill="#00ff00"/><rect x="764.1" y="629.5" width="5.0" height="5.0" fill="#00ff00"/><rect x="780.8" y="635.2" width="5.0" height="5.0" fill="#00ff00"/><rect x="778.5" y="641.8" width="5.0" height="5.0" fill="#00ff00"/><rect x="778.7" y="617.5" width="5.0" height="5.0" fill="#00ff00"/><rect x="781.3" y="614.4" width="5.0" height="5.0" fill="#00ff00"/><rect x="782.9" y="618.0" width="5.0" height="5.0" fill="#00ff00"/><rect x="784.4" y="615.9" width="5.0" height="5.0" fill="#00ff00"/><rect x="783.4" y="619.6" width="5.0" height="5.0" fill="#00ff00"/><rect x="788.1" y="618.5" width="5.0" height="5.0" fill="#00ff00"/><rect x="793.3" y="619.6" width="5.0" height="5.0" fill="#00ff00"/><rect x="795.4" y="617.5" width="5.0" height="5.0" fill="#00ff00"/><rect x="799.0" y="614.4" width="5.0" height="5.0" fill="#00ff00"/><rect x="800.6" y="618.5" width="5.0" height="5.0" fill="#00ff00"/><rect x="803.2" y="620.6" width="5.0" height="5.0" fill="#00ff00"/><rect x="805.3" y="618.5" width="5.0" height="5.0" fill="#00ff00"/><rect x="808.4" y="619.1" width="5.0" height="5.0" fill="#00ff00"/><rect x="811.6" y="619.1" width="5.0" height="5.0" fill="#00ff00"/><rect x="814.2" y="619.6" width="5.0" height="5.0" fill="#00ff00"/><rect x="815.8" y="617.0" width="5.0" height="5.0" fill="#00ff00"/><rect x="824.1" y="618.0" width="5.0" height="5.0" fill="#00ff00"/><rect x="826.2" y="616.8" width="5.0" height="5.0" fill="#00ff00"/><rect x="745.3" y="608.6" width="5.0" height="5.0" fill="#00ff00"/><rect x="751.5" y="613.8" width="5.0" height="5.0" fill="#00ff00"/><rect x="748.4" y="614.9" width="5.0" height="5.0" fill="#00ff00"/><rect x="752.6" y="609.1" width="5.0" height="5.0" fill="#00ff00"/><rect x="741.1" y="610.2" width="5.0" height="5.0" fill="#00ff00"/><rect x="858.7" y="606.0" width="5.0" height="5.0" fill="#00ff00"/><rect x="861.8" y="605.3" width="5.0" height="5.0" fill="#00ff00"/><rect x="865.0" y="605.0" width="5.0" height="5.0" fill="#00ff00"/><rect x="867.6" y="604.4" width="5.0" height="5.0" fill="#00ff00"/><rect x="870.2" y="606.0" width="5.0" height="5.0" fill="#00ff00"/><rect x="863.4" y="607.6" width="5.0" height="5.0" fill="#00ff00"/><rect x="867.0" y="609.1" width="5.0" height="5.0" fill="#00ff00"/><rect x="870.7" y="608.6" width="5.0" height="5.0" fill="#00ff00"/><rect x="866.0" y="613.8" width="5.0" height="5.0" fill="#00ff00"/><rect x="869.7" y="613.8" width="5.0" height="5.0" fill="#00ff00"/><rect x="872.8" y="613.3" width="5.0" height="5.0" fill="#00ff00"/><rect x="875.9" y="614.4" width="5.0" height="5.0" fill="#00ff00"/><rect x="879.1" y="611.7" width="5.0" height="5.0" fill="#00ff00"/><rect x="881.7" y="613.3" width="5.0" height="5.0" fill="#00ff00"/><rect x="877.0" y="610.7" width="5.0" height="5.0" fill="#00ff00"/><rect x="889.3" y="600.5" width="5.0" height="5.0" fill="#00ff00"/><rect x="889.0" y="608.1" width="5.0" height="5.0" fill="#00ff00"/><rect x="907.8" y="605.3" width="5.0" height="5.0" fill="#00ff00"/><rect x="942.6" y="616.4" width="5.0" height="5.0" fill="#00ff00"/>
<text class="rt" transform="translate(689.5,681.0) scale(1.220,1)" text-anchor="start" fill="#ff1010" style="letter-spacing:1.2px"><tspan font-style="italic">σ</tspan>=0.022</text>
<text class="rt" transform="translate(629.0,51.2) scale(1.150,1)" text-anchor="end" >1</text>
<text class="rt" transform="translate(629.0,174.1) scale(1.150,1)" text-anchor="end" >0.5</text>
<text class="rt" transform="translate(629.0,296.9) scale(1.150,1)" text-anchor="end" >0</text>
<text class="rt" transform="translate(631.4,419.8) scale(1.150,1)" text-anchor="end" ><tspan dy="-2.6" dx="-2.5">-</tspan><tspan dy="2.6" dx="2.6">0.5</tspan></text>
<text class="rt" transform="translate(631.4,542.7) scale(1.150,1)" text-anchor="end" ><tspan dy="1.2" dx="-2">−</tspan><tspan dy="-1.2" dx="2.5">1</tspan></text>
<text class="rt" transform="translate(629.0,554.3) scale(1.150,1)" text-anchor="end" >0.2</text>
<text class="rt" transform="translate(629.0,589.8) scale(1.150,1)" text-anchor="end" >0.1</text>
<text class="rt" transform="translate(629.0,625.3) scale(1.150,1)" text-anchor="end" >0</text>
<text class="rt" transform="translate(631.4,660.8) scale(1.150,1)" text-anchor="end" ><tspan dy="-2.6" dx="-2.5">-</tspan><tspan dy="2.6" dx="2.6">0.1</tspan></text>
<text class="rt" transform="translate(631.4,696.3) scale(1.150,1)" text-anchor="end" ><tspan dy="-2.6" dx="-2.5">-</tspan><tspan dy="2.6" dx="2.6">0.2</tspan></text>
<text class="rt" transform="translate(642.1,717.5) scale(1.150,1)" text-anchor="middle" >−2</text>
<text class="rt" transform="translate(738.4,717.5) scale(1.150,1)" text-anchor="middle" >−1</text>
<text class="rt" transform="translate(833.3,717.5) scale(1.150,1)" text-anchor="middle" >0</text>
<text class="rt" transform="translate(929.6,717.5) scale(1.150,1)" text-anchor="middle" >1</text>
<text class="rt" transform="translate(1025.8,717.5) scale(1.150,1)" text-anchor="middle" >2</text>
<text class="rt" transform="translate(1122.1,717.5) scale(1.150,1)" text-anchor="middle" >3</text>
<text class="rl" x="882.3" y="748.6" text-anchor="middle" style="letter-spacing:2px">gPS−iPS</text>
<text class="rl" transform="translate(598,294) rotate(-90)" text-anchor="middle" style="letter-spacing:2.1px">VSuprime−gPS</text>
<text class="rl" transform="translate(598,616) rotate(-90)" text-anchor="middle" style="letter-spacing:-0.5px">ΔMag</text>
</g>
</svg></body></html>
